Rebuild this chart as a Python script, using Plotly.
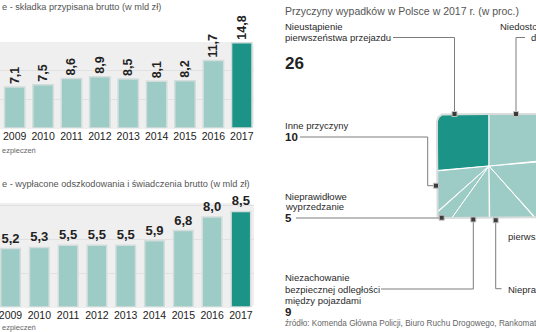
import numpy as np
import plotly.graph_objects as go

# ---------------- data ----------------
years = ["2009", "2010", "2011", "2012", "2013", "2014", "2015", "2016", "2017"]
premium_bn = [7.1, 7.5, 8.6, 8.9, 8.5, 8.1, 8.2, 11.7, 14.8]
claims_bn = [5.2, 5.3, 5.5, 5.5, 5.5, 5.9, 6.8, 8.0, 8.5]

cause_names = [
    "Nieustąpienie pierwszeństwa przejazdu",
    "Inne przyczyny",
    "Nieprawidłowe wyprzedzanie",
    "Niezachowanie bezpiecznej odległości między pojazdami",
    "Nieprawidłowe zachowanie wobec pieszego",
    "Nieustąpienie pierwszeństwa pieszemu",
    "Niedostosowanie prędkości do warunków ruchu",
]
cause_pct = [26, 10, 5, 9, 11, 15, 24]

# ---------------- style ----------------
W, H = 536, 332
LIGHT = "#9dcbc6"
DARK = "#1b9386"
BAR_EDGE = "#d3dedc"
PANEL = "#efefef"
GRID = "#e1e1e1"
FONT = "Liberation Sans, Arial, sans-serif"


def fx(p):
    return p / W


def fy(p):
    return 1 - p / H


def pl(v):
    return f"{v:.1f}".replace(".", ",")


idx = list(range(len(years)))
bar_colors = [LIGHT] * (len(years) - 1) + [DARK]

fig = go.Figure()

# ---------------- bar charts ----------------
fig.add_trace(go.Bar(
    x=idx, y=premium_bn, width=0.72,
    marker=dict(color=bar_colors, line=dict(color=BAR_EDGE, width=1.5)),
    text=[pl(v) for v in premium_bn], textposition="outside", textangle=-90,
    textfont=dict(family=FONT, size=12.5, color="#222", weight=700),
    constraintext="none", cliponaxis=False, hoverinfo="skip",
    xaxis="x", yaxis="y",
))
fig.add_trace(go.Bar(
    x=idx, y=claims_bn, width=0.68,
    marker=dict(color=bar_colors, line=dict(color=BAR_EDGE, width=1.5)),
    text=[pl(v) for v in claims_bn], textposition="outside", textangle=0,
    textfont=dict(family=FONT, size=13, color="#222", weight=700),
    constraintext="none", cliponaxis=False, hoverinfo="skip",
    xaxis="x2", yaxis="y2",
))

# ---------------- square pie ----------------
HALF = 52.0
RADII = {"tl": 8.0, "bl": 4.0, "br": 4.0, "tr": 4.0}


def rounded_square_boundary(half, radii, step=0.25):
    """Counter-clockwise boundary of a rounded square, starting at top centre."""
    pts = []

    def seg(p0, p1):
        n = max(int(np.hypot(p1[0] - p0[0], p1[1] - p0[1]) / step), 1)
        for t in np.linspace(0, 1, n, endpoint=False):
            pts.append((p0[0] + (p1[0] - p0[0]) * t, p0[1] + (p1[1] - p0[1]) * t))

    def arc(cx, cy, r, a0, a1):
        for a in np.linspace(a0, a1, 24, endpoint=False):
            pts.append((cx + r * np.cos(a), cy + r * np.sin(a)))

    h = half
    r = radii["tl"]
    seg((0, h), (-h + r, h))
    arc(-h + r, h - r, r, np.pi / 2, np.pi)
    r2 = radii["bl"]
    seg((-h, h - r), (-h, -h + r2))
    arc(-h + r2, -h + r2, r2, np.pi, 1.5 * np.pi)
    r3 = radii["br"]
    seg((-h + r2, -h), (h - r3, -h))
    arc(h - r3, -h + r3, r3, 1.5 * np.pi, 2 * np.pi)
    r4 = radii["tr"]
    seg((h, -h + r3), (h, h - r4))
    arc(h - r4, h - r4, r4, 0, np.pi / 2)
    seg((h - r4, h), (0, h))
    pts.append((0, h))
    return np.array(pts)


bnd = rounded_square_boundary(HALF, RADII)
tri = 0.5 * np.abs(bnd[:-1, 0] * bnd[1:, 1] - bnd[1:, 0] * bnd[:-1, 1])
cum = np.concatenate([[0], np.cumsum(tri)])
cum /= cum[-1]


def point_at(frac):
    i = int(np.clip(np.searchsorted(cum, frac) - 1, 0, len(cum) - 2))
    t = (frac - cum[i]) / (cum[i + 1] - cum[i]) if cum[i + 1] > cum[i] else 0
    return bnd[i] + t * (bnd[i + 1] - bnd[i])


shares = np.array(cause_pct, dtype=float) / sum(cause_pct)
edges = np.concatenate([[0], np.cumsum(shares)])
for k, name in enumerate(cause_names):
    f0, f1 = edges[k], edges[k + 1]
    inner = bnd[(cum > f0) & (cum < f1)]
    poly = np.vstack([[0, 0], point_at(f0), inner, point_at(f1), [0, 0]])
    fig.add_trace(go.Scatter(
        x=poly[:, 0], y=poly[:, 1], mode="lines", fill="toself",
        fillcolor=DARK if k == 0 else LIGHT,
        line=dict(color="white", width=1), name=name, hoverinfo="skip",
        xaxis="x3", yaxis="y3",
    ))
fig.add_trace(go.Scatter(
    x=bnd[:, 0], y=bnd[:, 1], mode="lines",
    line=dict(color="#d8dddc", width=2), hoverinfo="skip",
    xaxis="x3", yaxis="y3",
))

# ---------------- leader lines (pixel overlay) ----------------
LEAD = "#7d7d7d"
leaders = [
    ([393, 454.5, 454.5], [37.5, 37.5, 114]),
    ([525, 516, 516], [37.5, 37.5, 114]),
    ([300, 427.7, 427.7, 436], [137, 137, 185.7, 185.7]),
    ([296, 441.7], [218, 218]),
    ([381, 473.3, 473.3], [289, 289, 219.5]),
    ([495.7, 495.7, 501.5], [220.3, 288.7, 288.7]),
]
for xs, ys in leaders:
    fig.add_trace(go.Scatter(
        x=xs, y=ys, mode="lines", line=dict(color=LEAD, width=1),
        hoverinfo="skip", xaxis="x5", yaxis="y5",
    ))
anchors_x = [454.5, 516, 436, 441.7, 473.3, 495.7]
anchors_y = [114, 114, 185.7, 217.7, 219.5, 220.3]
fig.add_trace(go.Scatter(
    x=anchors_x, y=anchors_y, mode="markers",
    marker=dict(symbol="square", size=5, color="#3b3b3b",
                line=dict(color="#c2c2c2", width=1)),
    hoverinfo="skip", xaxis="x5", yaxis="y5",
))

# ---------------- text ----------------
ann = []


def txt(x, y, s, size=9.5, color="#2a2a2a", bold=False, anchor="left"):
    ann.append(dict(
        x=x, y=y, xref="x5", yref="y5", text=s, showarrow=False,
        xanchor=anchor, yanchor="middle",
        font=dict(family=FONT, size=size, color=color, weight=700 if bold else 400),
    ))


txt(0, 6.5, "e - składka przypisana brutto (w mld zł)", size=9.2, color="#555")
txt(0, 150, "ezpieczeń", size=7.5, color="#666")
txt(0, 183.5, "e - wypłacone odszkodowania i świadczenia brutto (w mld zł)", size=9.2, color="#555")
txt(0, 327, "ezpieczeń", size=7.5, color="#666")

txt(283, 11, "Przyczyny wypadków w Polsce w 2017 r. (w proc.)", size=10.5, color="#555")
txt(283, 26.5, "Nieustąpienie")
txt(283, 37.5, "pierwszeństwa przejazdu")
txt(283, 63, str(cause_pct[0]), size=17, color="#222", bold=True)
txt(497.5, 26.5, "Niedostosowanie prędkości")
txt(529, 37.5, "do warunków ruchu")
txt(283, 125, "Inne przyczyny")
txt(283, 137, str(cause_pct[1]), size=11.5, color="#222", bold=True)
txt(283, 196, "Nieprawidłowe")
txt(283, 206.5, "wyprzedzanie")
txt(283, 218, str(cause_pct[2]), size=11.5, color="#222", bold=True)
txt(283, 277.5, "Niezachowanie")
txt(283, 289, "bezpiecznej odległości")
txt(283, 300, "między pojazdami")
txt(283, 312, str(cause_pct[3]), size=11.5, color="#222", bold=True)
txt(505.5, 236.5, "pierwszeństwa pieszemu")
txt(505.5, 289, "Nieprawidłowe zachowanie")
txt(283, 323.5, "źródło: Komenda Główna Policji, Biuro Ruchu Drogowego, Rankomat",
    size=8.2, color="#666")

# ---------------- panels behind the bars ----------------
def panel(x0, x1, y0, y1, r):
    return dict(
        type="path", xref="paper", yref="paper", layer="below",
        path=(f"M {fx(x0)},{fy(y1)} L {fx(x0)},{fy(y0)} L {fx(x1 - r)},{fy(y0)} "
              f"Q {fx(x1)},{fy(y0)} {fx(x1)},{fy(y0 + r)} L {fx(x1)},{fy(y1 - r)} "
              f"Q {fx(x1)},{fy(y1)} {fx(x1 - r)},{fy(y1)} Z"),
        fillcolor=PANEL, line=dict(width=0),
    )


shapes = [panel(-2, 254, 42, 129, 6), panel(-2, 254, 203, 308, 6)]

tick_font = dict(family=FONT, size=10.5, color="#222")
fig.update_layout(
    width=W, height=H, margin=dict(l=0, r=0, t=0, b=0),
    paper_bgcolor="white", plot_bgcolor="rgba(0,0,0,0)",
    showlegend=False, shapes=shapes, annotations=ann,
    xaxis=dict(domain=[0, fx(254)], range=[-0.518, 8.43], tickvals=idx, ticktext=years,
               showgrid=False, zeroline=False, showline=False, ticks="",
               ticklabeloverflow="allow",
               tickfont=tick_font, anchor="y", fixedrange=True),
    yaxis=dict(domain=[fy(128), fy(41.6)], range=[0, 15], dtick=5, showticklabels=False,
               gridcolor=GRID, gridwidth=1, zeroline=False, anchor="x", fixedrange=True),
    xaxis2=dict(domain=[0, fx(254)], range=[-0.365, 8.455], tickvals=idx, ticktext=years,
                showgrid=False, zeroline=False, showline=False, ticks="",
                ticklabeloverflow="allow",
                tickfont=tick_font, anchor="y2", fixedrange=True),
    yaxis2=dict(domain=[fy(307), fy(203)], range=[0, 9.25], dtick=3, showticklabels=False,
                gridcolor=GRID, gridwidth=1, zeroline=False, anchor="x2", fixedrange=True),
    xaxis3=dict(domain=[fx(433), 1], range=[-56, 47], visible=False, anchor="y3",
                fixedrange=True),
    yaxis3=dict(domain=[fy(222), fy(110)], range=[-56, 56], visible=False, anchor="x3",
                fixedrange=True),
    xaxis5=dict(domain=[0, 1], range=[0, W], visible=False, anchor="y5", fixedrange=True),
    yaxis5=dict(domain=[0, 1], range=[H, 0], visible=False, anchor="x5", fixedrange=True),
)

fig.write_html("out.html")
